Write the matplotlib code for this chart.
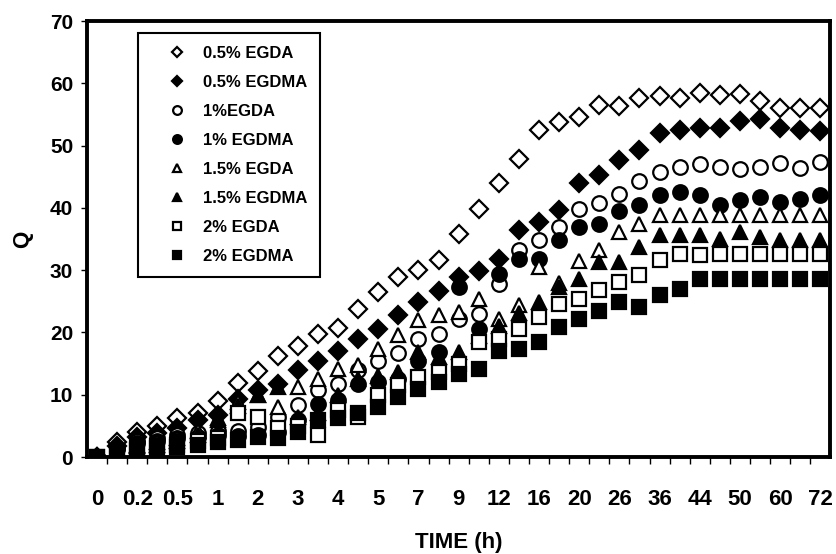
import matplotlib
matplotlib.use("Agg")
import matplotlib.pyplot as plt

plt.rcParams["font.family"] = ["Liberation Sans", "DejaVu Sans"]
plt.rcParams["font.weight"] = "bold"

# x categories (only every other one is labelled on the axis)
time_labels = ["0", "", "0.2", "", "0.5", "", "1", "", "2", "", "3", "", "4", "",
               "5", "", "7", "", "9", "", "12", "", "16", "", "20", "", "26", "",
               "36", "", "44", "", "50", "", "60", "", "72"]

# Q values, one per category
egda_05 = [0, 2.4, 4.0, 5.0, 6.2, 7.1, 9.0, 11.9, 13.8, 16.2, 17.9, 19.8, 20.7,
           23.8, 26.5, 28.9, 30.0, 31.7, 35.8, 39.9, 44.0, 47.9, 52.5, 53.8,
           54.6, 56.6, 56.4, 57.6, 57.9, 57.6, 58.4, 58.2, 58.3, 57.1, 56.0,
           56.0, 56.0]
egdma_05 = [0, 1.8, 3.2, 3.8, 4.6, 5.9, 6.8, 9.4, 10.8, 11.8, 14.0, 15.5, 17.1,
            18.9, 20.6, 22.8, 24.9, 26.7, 28.9, 29.9, 31.8, 36.4, 37.7, 39.6,
            44.0, 45.3, 47.7, 49.3, 52.0, 52.5, 52.8, 52.8, 53.9, 54.3, 52.9,
            52.5, 52.3]
egda_1 = [0, 1.5, 2.6, 3.0, 3.6, 3.8, 4.2, 4.2, 4.8, 6.5, 8.3, 10.8, 11.8,
          13.9, 15.5, 16.7, 18.9, 19.8, 22.1, 23.0, 27.8, 33.2, 34.8, 36.9,
          39.9, 40.8, 42.3, 44.3, 45.7, 46.5, 47.0, 46.6, 46.3, 46.5, 47.2,
          46.4, 47.3]
egdma_1 = [0, 1.3, 2.2, 2.6, 3.0, 3.2, 3.6, 3.4, 3.5, 4.0, 6.0, 8.5, 9.1,
           11.8, 12.1, 12.5, 15.5, 16.9, 27.3, 20.5, 29.4, 31.8, 31.8, 34.8,
           37.0, 37.4, 39.5, 40.5, 42.0, 42.5, 42.0, 40.5, 41.3, 41.7, 40.9,
           41.5, 42.0]
egda_15 = [0, 1.2, 2.0, 2.4, 3.0, 4.2, 6.2, 8.9, 10.0, 8.1, 11.3, 12.5, 14.2,
           14.7, 17.4, 19.6, 22.0, 22.8, 23.3, 25.4, 22.1, 24.4, 30.5, 28.0,
           31.4, 33.3, 36.1, 37.4, 38.9, 38.9, 38.9, 38.9, 38.9, 38.9, 38.9,
           38.9, 38.9]
egdma_15 = [0, 1.0, 1.8, 2.0, 2.5, 3.5, 6.0, 8.2, 10.0, 11.2, 6.5, 7.0, 10.0,
            12.5, 13.0, 13.7, 16.9, 16.0, 16.9, 19.5, 21.0, 23.1, 24.9, 27.3,
            28.6, 31.3, 31.3, 33.7, 35.6, 35.6, 35.6, 35.0, 36.1, 35.4, 34.8,
            34.8, 34.8]
egda_2 = [0, 0.8, 1.5, 1.8, 2.0, 2.6, 3.0, 7.0, 6.4, 4.6, 5.0, 3.5, 7.5,
          6.4, 9.9, 11.5, 12.9, 13.7, 15.0, 18.5, 19.0, 20.5, 22.5, 24.6,
          25.4, 26.8, 28.1, 29.3, 31.7, 32.6, 32.4, 32.6, 32.6, 32.6, 32.6,
          32.6, 32.6]
egdma_2 = [0, 0.6, 1.2, 1.4, 1.6, 2.0, 2.4, 2.8, 3.2, 3.0, 4.0, 6.0, 6.3,
           7.0, 8.1, 9.7, 11.0, 12.1, 13.4, 14.2, 17.1, 17.4, 18.5, 20.9,
           22.2, 23.4, 24.9, 24.1, 26.0, 27.0, 28.6, 28.6, 28.6, 28.6, 28.6,
           28.6, 28.6]

series = [
    ("0.5% EGDA", egda_05, "D", "white"),
    ("0.5% EGDMA", egdma_05, "D", "black"),
    ("1%EGDA", egda_1, "o", "white"),
    ("1% EGDMA", egdma_1, "o", "black"),
    ("1.5% EGDA", egda_15, "^", "white"),
    ("1.5% EGDMA", egdma_15, "^", "black"),
    ("2% EGDA", egda_2, "s", "white"),
    ("2% EGDMA", egdma_2, "s", "black"),
]

fig = plt.figure(figsize=(8.37, 5.54), dpi=100)
ax = fig.add_axes([0.104, 0.175, 0.888, 0.787])

x = list(range(len(time_labels)))
for label, vals, marker, face in series:
    size = 9 if marker == "D" else 10.5
    ax.plot(x, vals, linestyle="none", marker=marker, markersize=size,
            markerfacecolor=face, markeredgecolor="black",
            markeredgewidth=1.6, label=label)

ax.set_xlim(-0.5, len(x) - 0.5)
ax.set_ylim(0, 70)
ax.set_yticks(range(0, 71, 10))
ax.set_xticks(x[::2])
ax.set_xticklabels(time_labels[::2])
ax.set_xticks([i + 0.5 for i in x[:-1]], minor=True)
ax.tick_params(axis="x", which="major", length=0, labelsize=16, pad=23)
ax.tick_params(axis="x", which="minor", length=5, width=1, direction="out")
ax.tick_params(axis="y", length=4, width=1, labelsize=15, pad=6)

for s in ax.spines.values():
    s.set_linewidth(2.8)

ax.set_xlabel("TIME (h)", fontsize=16, fontweight="bold", labelpad=16)
ax.set_ylabel("Q", fontsize=16, fontweight="bold", labelpad=12)

leg = ax.legend(loc="upper left", bbox_to_anchor=(0.069, 0.972),
                borderaxespad=0, markerscale=0.6,
                labelspacing=0.84, handletextpad=0.0, borderpad=0.78,
                handlelength=3.1, fancybox=False, framealpha=1,
                prop={"weight": "bold", "size": 12})
leg.get_frame().set_edgecolor("black")
leg.get_frame().set_linewidth(1.5)

fig.savefig("out.png", dpi=100)
